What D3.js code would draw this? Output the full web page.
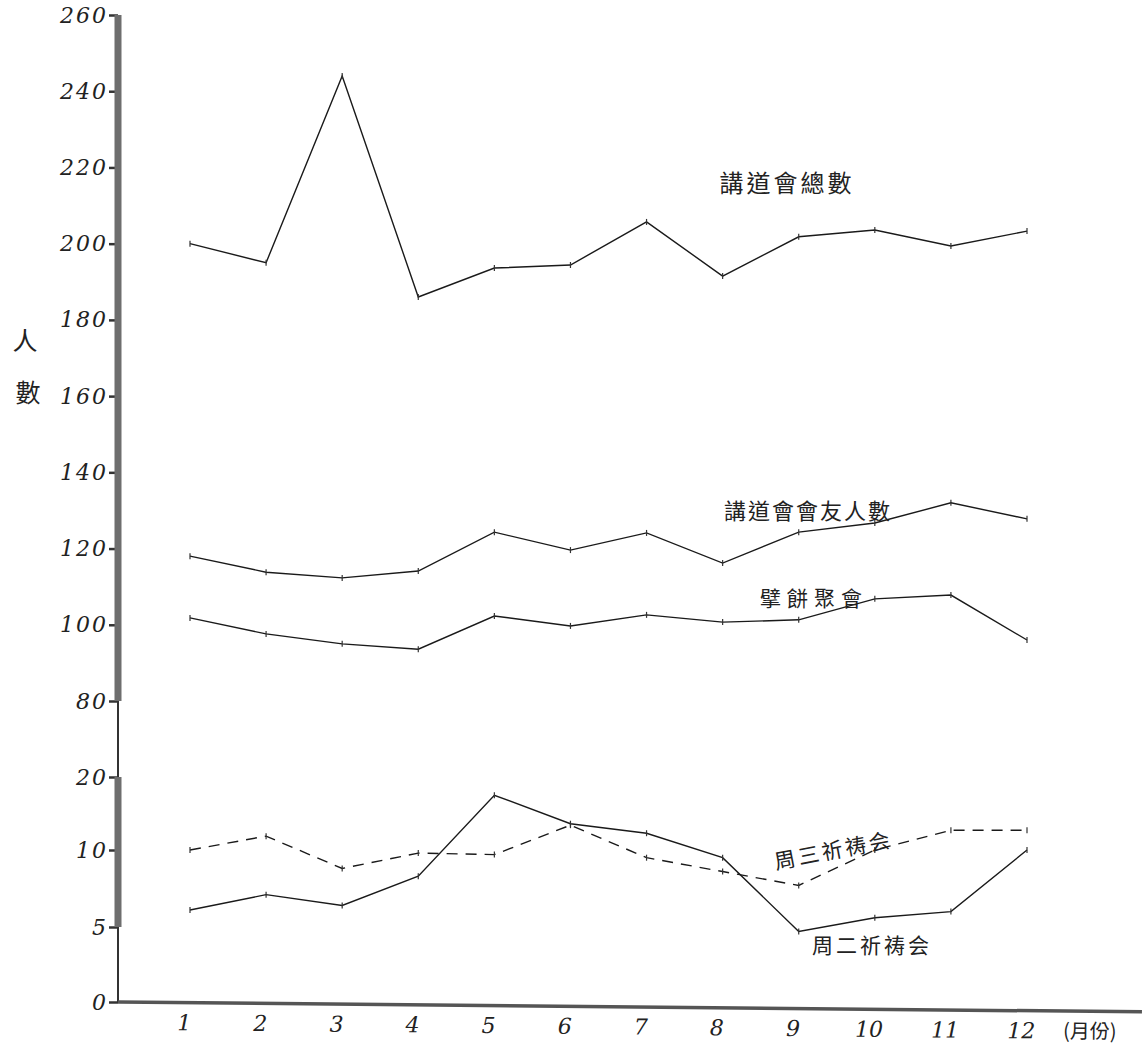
<!DOCTYPE html>
<html lang="zh-Hant">
<head>
    <meta charset="UTF-8">
    <title>講道會人數</title>
    <style>
        body {
            margin: 0;
            background-color: #ffffff;
        }
        .num {
            font-family: "DejaVu Serif", serif;
            font-style: italic;
            font-size: 22px;
            fill: #222;
        }
        .cjk {
            font-family: "Noto Sans CJK TC", "Noto Sans CJK SC", sans-serif;
            fill: #222;
        }
    </style>
    <script src="https://d3js.org/d3.v7.min.js"></script>
</head>
<body>
    <svg width="1144" height="1047"></svg>

    <script>
        // 月份
        const months = [1, 2, 3, 4, 5, 6, 7, 8, 9, 10, 11, 12];
        // 講道會總數
        const totalCount = [200, 195, 244, 186, 193.6, 194.4, 205.7, 191.5, 201.8, 203.6, 199.4, 203.3];
        // 講道會會友人數
        const memberCount = [118, 113.8, 112.3, 114.1, 124.3, 119.6, 124.1, 116.2, 124.3, 126.7, 132, 127.8];
        // 擘餅聚會
        const breadCount = [101.8, 97.6, 95, 93.6, 102.3, 99.7, 102.6, 100.7, 101.3, 106.8, 107.8, 96];
        // 周三祈祷会 (虛線)
        const wedPrayer = [10, 11.9, 8.8, 9.8, 9.7, 13.4, 9.5, 8.6, 7.7, 10, 12.7, 12.7];
        // 周二祈祷会
        const tuePrayer = [6.1, 7.1, 6.4, 8.3, 17.5, 13.6, 12.3, 9.5, 4.7, 5.6, 6.0, 10];
        // 縱軸刻度 (斷軸: 20 與 80 之間)
        const yTicks = [0, 5, 10, 20, 80, 100, 120, 140, 160, 180, 200, 220, 240, 260];

        const svg = d3.select("svg");
        const axisX = 118;

        const x = d3.scaleLinear().domain([1, 12]).range([190, 1027]);
        // 手繪圖的縱軸每格等距, 故用分段線性比例尺
        const y = d3.scaleLinear()
            .domain([0, 5, 10, 20, 80, 260])
            .range([1002, 927, 850, 777, 701, 15]);

        // 縱軸
        const yAxis = svg.append("g")
            .attr("transform", `translate(${axisX},0)`)
            .call(d3.axisLeft(y).tickValues(yTicks).tickSize(9).tickPadding(1).tickFormat(d3.format("d")));
        yAxis.select(".domain").remove();
        yAxis.selectAll(".tick line").attr("stroke", "#333").attr("stroke-width", 2.5);
        yAxis.selectAll(".tick text")
            .attr("class", "num")
            .attr("font-size", null).attr("font-family", null)
            .attr("letter-spacing", 2);

        // 粗的軸段與細的軸段
        svg.append("line")
            .attr("x1", axisX).attr("x2", axisX)
            .attr("y1", y(260)).attr("y2", y(0))
            .attr("stroke", "#333").attr("stroke-width", 2);
        [[260, 80], [20, 5]].forEach(seg => {
            svg.append("rect")
                .attr("x", axisX - 3.5)
                .attr("y", y(seg[0]))
                .attr("width", 7)
                .attr("height", y(seg[1]) - y(seg[0]))
                .attr("fill", "#6e6e6e");
        });

        // 橫軸 (略微向右下傾斜)
        const xAxis = svg.append("g")
            .attr("transform", `translate(0,${y(0)}) rotate(0.55, ${axisX}, 0)`)
            .call(d3.axisBottom(x).tickValues(months).tickSize(0).tickPadding(12).tickFormat(d3.format("d")));
        xAxis.select(".domain").remove();
        xAxis.selectAll(".tick text")
            .attr("class", "num")
            .attr("font-size", null).attr("font-family", null)
            .attr("dx", -6);
        xAxis.append("line")
            .attr("x1", axisX).attr("x2", 1142)
            .attr("y1", 0).attr("y2", 0)
            .attr("stroke", "#555").attr("stroke-width", 3.5);
        xAxis.append("text")
            .attr("class", "cjk")
            .attr("x", 1090).attr("y", 27)
            .attr("text-anchor", "middle")
            .attr("font-size", 20)
            .text("(月份)");

        // 折線
        const line = d3.line()
            .x((d, i) => x(months[i]))
            .y(d => y(d));

        const series = [
            { values: totalCount, dash: null },
            { values: memberCount, dash: null },
            { values: breadCount, dash: null },
            { values: wedPrayer, dash: "11,8" },
            { values: tuePrayer, dash: null }
        ];

        series.forEach(s => {
            svg.append("path")
                .datum(s.values)
                .attr("d", line)
                .attr("fill", "none")
                .attr("stroke", "#1a1a1a")
                .attr("stroke-width", 1.4)
                .attr("stroke-dasharray", s.dash);

            // 點上的小記號
            svg.selectAll(null)
                .data(s.values)
                .enter().append("line")
                .attr("x1", (d, i) => x(months[i]))
                .attr("x2", (d, i) => x(months[i]))
                .attr("y1", d => y(d) - 3)
                .attr("y2", d => y(d) + 3)
                .attr("stroke", "#333")
                .attr("stroke-width", 1.2);
        });

        // 系列標籤
        const labels = [
            { text: "講道會總數", x: 787, y: 192, size: 24, rot: 0, spacing: 3 },
            { text: "講道會會友人數", x: 808, y: 519, size: 22, rot: 0, spacing: 2 },
            { text: "擘餅聚會", x: 814, y: 606, size: 21, rot: 0, spacing: 6 },
            { text: "周三祈祷会", x: 835, y: 858, size: 21, rot: -11, spacing: 3 },
            { text: "周二祈祷会", x: 872, y: 953, size: 21, rot: 0, spacing: 3 }
        ];
        labels.forEach(l => {
            svg.append("text")
                .attr("class", "cjk")
                .attr("x", l.x).attr("y", l.y)
                .attr("text-anchor", "middle")
                .attr("font-size", l.size)
                .attr("letter-spacing", l.spacing)
                .attr("transform", `rotate(${l.rot}, ${l.x}, ${l.y})`)
                .text(l.text);
        });

        // 縱軸標題
        svg.append("text")
            .attr("class", "cjk")
            .attr("x", 25).attr("y", 350)
            .attr("text-anchor", "middle")
            .attr("font-size", 25)
            .text("人");
        svg.append("text")
            .attr("class", "cjk")
            .attr("x", 28).attr("y", 402)
            .attr("text-anchor", "middle")
            .attr("font-size", 25)
            .text("數");
    </script>
</body>
</html>
